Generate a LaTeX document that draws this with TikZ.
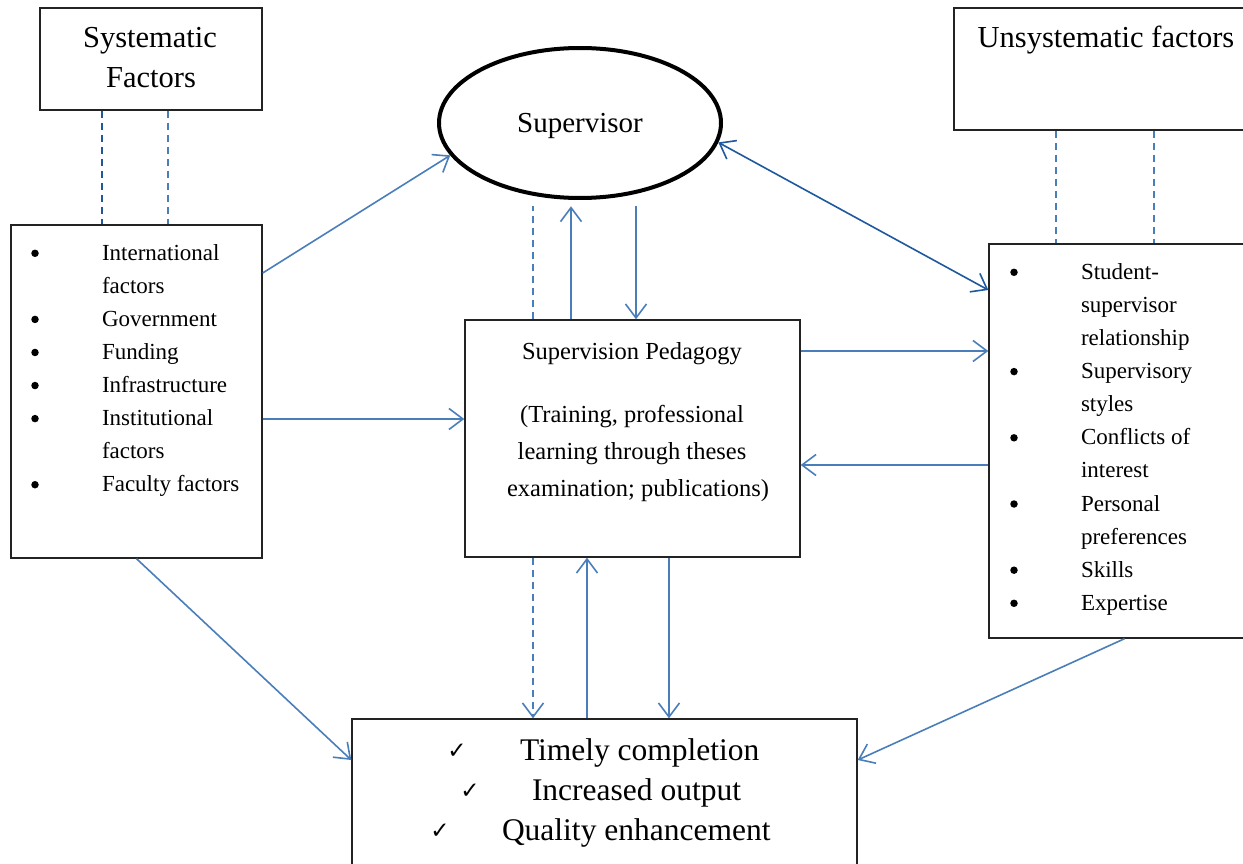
\documentclass[tikz,border=0pt]{standalone}
\usepackage{fontspec}
\setmainfont{Liberation Serif}
\newfontfamily\symfont{DejaVu Sans}
\usetikzlibrary{arrows.meta,shapes.geometric}
\definecolor{lblue}{RGB}{74,126,187}
\definecolor{dblue}{RGB}{30,88,158}
\definecolor{boxline}{RGB}{35,35,35}
\begin{document}
\begin{tikzpicture}[x=1pt,y=-1pt,
  box/.style={draw=boxline,line width=1.4pt,fill=white,rectangle,inner sep=0pt},
  txt/.style={inner sep=0pt,outer sep=0pt},
  bul/.style={circle,fill=black,inner sep=0pt,minimum size=7.5pt},
  conn/.style={draw=lblue,line width=1.6pt},
  arr/.style={conn,-{Straight Barb[length=14pt,width=21pt]}},
  darr/.style={draw=dblue,line width=1.6pt,{Straight Barb[length=14pt,width=21pt]}-{Straight Barb[length=14pt,width=21pt]}},
  dsh/.style={dash pattern=on 7pt off 5pt},
  listfont/.style={font=\fontsize{23}{28}\selectfont},
  bigfont/.style={font=\fontsize{30.5}{36}\selectfont},
  pedfont/.style={font=\fontsize{24.5}{30}\selectfont},
  outfont/.style={font=\fontsize{31.5}{36}\selectfont},
  chk/.style={txt,font=\symfont\fontsize{23}{26}\selectfont}
]
\useasboundingbox (0,0) rectangle (1243,864);
\clip (0,0) rectangle (1243,864);
\fill[white] (0,0) rectangle (1243,864);

% boxes
\node[box,minimum width=222pt,minimum height=102pt] (sys) at (151,59) {};
\node[box,minimum width=251pt,minimum height=333pt] (left) at (136.5,391.5) {};
\node[box,minimum width=335pt,minimum height=237pt] (ped) at (632.5,438.5) {};
\node[box,minimum width=312pt,minimum height=122pt] (unsys) at (1110,69) {};
\node[box,minimum width=271pt,minimum height=394pt] (right) at (1124.5,441) {};
\node[box,minimum width=505pt,minimum height=161pt] (out) at (604.5,799.5) {};
\node[draw=black,fill=white,line width=4pt,ellipse,minimum width=282pt,minimum height=150pt,inner sep=0pt] (ell) at (580,123) {};

% titles
\node[txt,bigfont,anchor=base] (sysA) at (150,48) {Systematic};
\node[txt,bigfont,anchor=base] (sysB) at (151,88) {Factors};
\node[txt,bigfont,anchor=base] (unsysT) at (1106,48) {Unsystematic factors};
\node[txt,font=\fontsize{29}{34}\selectfont,anchor=base] (supT) at (580,133) {Supervisor};

% pedagogy text
\node[txt,pedfont,anchor=base] (p1) at (632,359) {Supervision Pedagogy};
\node[txt,pedfont,anchor=base] (p2) at (632,422) {(Training, professional};
\node[txt,pedfont,anchor=base] (p3) at (632,459) {learning through theses};
\node[txt,pedfont,anchor=base] (p4) at (638,496) {examination; publications)};

% left list
\foreach \t [count=\i] in {International,factors,Government,Funding,Infrastructure,Institutional,factors,Faculty factors}
  \node[txt,listfont,anchor=base west] (L\i) at (102,{260.3+33.06*(\i-1)}) {\t};
\foreach \k [count=\j] in {0,2,3,4,5,7}
  \node[bul] (LB\j) at (35,{253.3+33.06*\k}) {};

% right list
\foreach \t [count=\i] in {Student-,supervisor,relationship,Supervisory,styles,Conflicts of,interest,Personal,preferences,Skills,Expertise}
  \node[txt,listfont,anchor=base west] (R\i) at (1081,{279.3+33.1*(\i-1)}) {\t};
\foreach \k [count=\j] in {0,3,5,7,9,10}
  \node[bul] (RB\j) at (1014,{272.3+33.1*\k}) {};

% outcomes
\node[txt,outfont,anchor=base west] (o1) at (520,760) {Timely completion};
\node[txt,outfont,anchor=base west] (o2) at (532,800) {Increased output};
\node[txt,outfont,anchor=base west] (o3) at (502,840) {Quality enhancement};
\node[chk] (c1) at (457,751) {✓};
\node[chk] (c2) at (470,791) {✓};
\node[chk] (c3) at (440,831) {✓};

% dashed links to factor boxes
\draw[draw=dblue,line width=1.6pt,dsh] ([xshift=-49pt]sys.south) -- ([xshift=-34.5pt]left.north);
\draw[conn,dsh] ([xshift=17pt]sys.south) -- ([xshift=31.5pt]left.north);
\draw[conn,dsh] ([xshift=-54pt]unsys.south) -- ([xshift=-68.5pt]right.north);
\draw[conn,dsh] ([xshift=44pt]unsys.south) -- ([xshift=29.5pt]right.north);

% left box connectors
\draw[arr] ([yshift=118.5pt]left.east) -- (ell.194);
\draw[arr] ([yshift=-27.5pt]left.east) -- ([yshift=19.5pt]ped.west);
\draw[arr] (left.south) -- ([yshift=39.5pt]out.west);

% supervisor <-> right box
\draw[darr] (ell.352) -- ([yshift=151pt]right.west);

% pedagogy <-> right box
\draw[arr] ([yshift=87.5pt]ped.east) -- ([yshift=90pt]right.west);
\draw[arr] ([yshift=-24pt]right.west) -- ([yshift=-26.5pt]ped.east);
\draw[arr] (right.south) -- ([yshift=39.5pt]out.east);

% pedagogy <-> supervisor
\draw[conn,dsh] ([xshift=-99.5pt]ped.north) -- ([xshift=-99.5pt,yshift=113pt]ped.north);
\draw[arr] ([xshift=-61.5pt]ped.north) -- ([xshift=-61.5pt,yshift=113pt]ped.north);
\draw[arr] ([xshift=3.5pt,yshift=113pt]ped.north) -- ([xshift=3.5pt]ped.north);

% pedagogy <-> outcomes
\draw[arr,dsh] ([xshift=-99.5pt]ped.south) -- ([xshift=-71.5pt]out.north);
\draw[arr] ([xshift=-17.5pt]out.north) -- ([xshift=-45.5pt]ped.south);
\draw[arr] ([xshift=36.5pt]ped.south) -- ([xshift=64.5pt]out.north);
\end{tikzpicture}
\end{document}
